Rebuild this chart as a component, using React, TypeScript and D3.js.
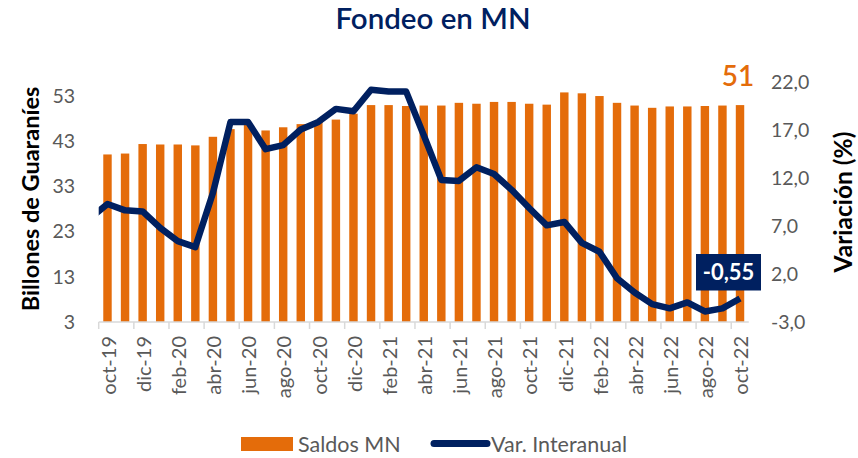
import React from "react";
import * as d3 from "d3";

const months = [
  "oct-19","nov-19","dic-19","ene-20","feb-20","mar-20","abr-20","may-20","jun-20","jul-20","ago-20","sep-20",
  "oct-20","nov-20","dic-20","ene-21","feb-21","mar-21","abr-21","may-21","jun-21","jul-21","ago-21","sep-21",
  "oct-21","nov-21","dic-21","ene-22","feb-22","mar-22","abr-22","may-22","jun-22","jul-22","ago-22","sep-22","oct-22",
];
const saldosMN = [
  40.0, 40.2, 42.3, 42.2, 42.2, 42.0, 43.9, 45.6, 46.5, 45.3, 46.0, 46.7,
  47.2, 47.7, 49.0, 50.9, 50.9, 50.7, 50.8, 50.8, 51.4, 51.2, 51.6, 51.6,
  51.2, 51.0, 53.7, 53.5, 52.9, 51.4, 50.8, 50.3, 50.6, 50.6, 50.7, 50.8, 50.9,
];
// var. interanual starts one month earlier (sep-19), partially clipped by the plot area
const varMonths = ["sep-19", ...months];
const varInteranual = [
  7.8, 9.29, 8.63, 8.52, 6.8, 5.42, 4.8, 10.43, 17.84, 17.84, 15.0, 15.43, 17.05,
  17.84, 19.2, 18.95, 21.19, 21.02, 21.0, 16.46, 11.8, 11.7, 13.12, 12.42, 10.77,
  8.87, 7.07, 7.42, 5.25, 4.32, 1.55, 0.07, -1.14, -1.58, -0.96, -1.9, -1.58, -0.55,
];
const leftTicks = [3, 13, 23, 33, 43, 53];
const rightTicks = [-3, 2, 7, 12, 17, 22];

const ORANGE = "#E46C0A";
const NAVY = "#002060";
const GRAY = "#595959";
const FONT = "Lato, 'Open Sans', sans-serif";

export default function App() {
  const W = 858, H = 458;
  const left = 98.7, right = 748.8, top = 82, bottom = 322;

  const x = d3.scaleBand<string>().domain(months).range([left, right]).paddingInner(0.52).paddingOuter(0.26);
  const step = x.step();
  const cx = (i: number) => left + step * (i + 0.5);
  const yL = d3.scaleLinear().domain([3, 56]).range([bottom, top]);
  const yR = d3.scaleLinear().domain([-3, 22]).range([bottom, top]);

  const line = d3.line<number>().x((_, i) => cx(i - 1)).y((d) => yR(d));
  const linePath = line(varInteranual) || "";

  const lastIdx = months.length - 1;
  const lastVar = varInteranual[varInteranual.length - 1];
  const lastSaldo = saldosMN[lastIdx];
  const fmt = (v: number) => v.toFixed(1).replace(".", ",");
  const fmt2 = (v: number) => v.toFixed(2).replace(".", ",");

  const tickIdx = months.map((_, i) => i).filter((i) => i % 2 === 0);

  return (
    <svg width={W} height={H} style={{ position: "absolute", left: 0, top: 0, background: "#fff" }} fontFamily={FONT}>
      <defs>
        <clipPath id="plotclip">
          <rect x={left} y={0} width={right - left} height={H} />
        </clipPath>
      </defs>
      <text x={433} y={29} textAnchor="middle" fontSize={29.5} fontWeight={600} fill={NAVY}>Fondeo en MN</text>

      {/* bars */}
      {saldosMN.map((v, i) => (
        <rect key={i} x={x(months[i])} y={yL(v)} width={x.bandwidth()} height={yL(3) - yL(v)} fill={ORANGE} />
      ))}

      {/* x axis */}
      <line x1={left} x2={right} y1={bottom} y2={bottom} stroke="#D9D9D9" strokeWidth={1.5} />
      {tickIdx.map((i) => (
        <line key={"t" + i} x1={left + step * i} x2={left + step * i} y1={bottom} y2={bottom + 7} stroke="#D9D9D9" strokeWidth={1.5} />
      ))}
      {tickIdx.map((i) => (
        <text key={"l" + i} transform={`translate(${cx(i) + 1},${bottom + 14}) rotate(-90)`} textAnchor="end" dy="0.36em" fontSize={20} fill={GRAY}>{months[i]}</text>
      ))}

      {/* left axis labels */}
      {leftTicks.map((t) => (
        <text key={"yl" + t} x={75} y={yL(t)} dy="0.36em" textAnchor="end" fontSize={19.5} fill={GRAY}>{t}</text>
      ))}
      {/* right axis labels */}
      {rightTicks.map((t) => (
        <text key={"yr" + t} x={771} y={yR(t)} dy="0.36em" textAnchor="start" fontSize={19.5} fill={GRAY}>{fmt(t)}</text>
      ))}

      <text transform={`translate(31,199) rotate(-90)`} textAnchor="middle" dy="0.36em" fontSize={23.5} fontWeight={700} fill="#000">Billones de Guaraníes</text>
      <text transform={`translate(843,202) rotate(-90)`} textAnchor="middle" dy="0.36em" fontSize={24.5} fontWeight={700} fill="#000">Variación (%)</text>

      {/* line */}
      <g clipPath="url(#plotclip)">
        <path d={linePath} fill="none" stroke={NAVY} strokeWidth={6.5} strokeLinejoin="round" />
      </g>

      {/* data labels */}
      <text x={cx(lastIdx) - 2} y={yL(lastSaldo) - 19} textAnchor="middle" fontSize={28} fontWeight={600} fill={ORANGE}>{Math.round(lastSaldo)}</text>
      <rect x={696} y={254} width={65} height={36.5} fill={NAVY} />
      <text x={728.5} y={272.5} dy="0.36em" textAnchor="middle" fontSize={22} fontWeight={700} fill="#fff">{fmt2(lastVar)}</text>

      {/* legend */}
      <rect x={241} y={437} width={52} height={14} fill={ORANGE} />
      <text x={298} y={444} dy="0.36em" fontSize={21.5} fill={GRAY}>Saldos MN</text>
      <line x1={434} x2={487} y1={443.5} y2={443.5} stroke={NAVY} strokeWidth={7} strokeLinecap="round" />
      <text x={491} y={444} dy="0.36em" fontSize={21.5} fill={GRAY}>Var. Interanual</text>
    </svg>
  );
}
